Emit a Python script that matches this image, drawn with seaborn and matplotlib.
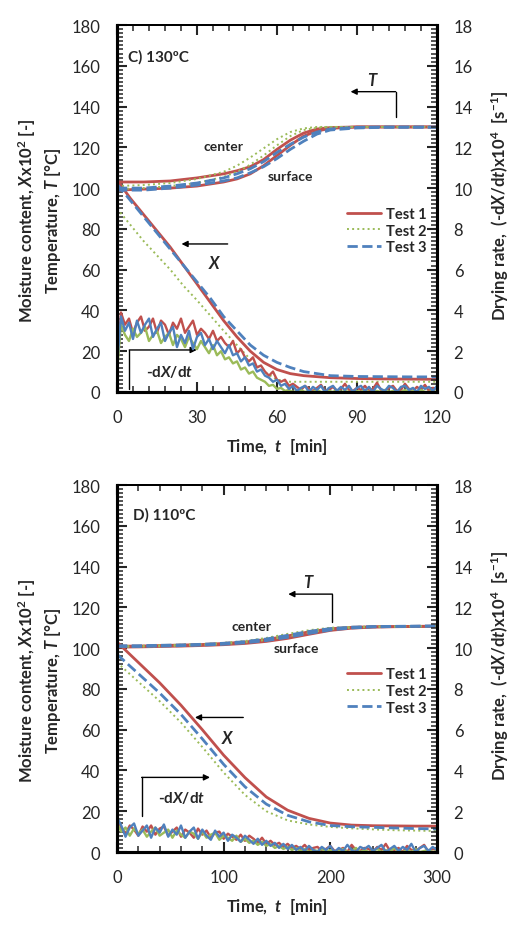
import numpy as np
import pandas as pd
import matplotlib
matplotlib.use('Agg')
import matplotlib.pyplot as plt
from matplotlib.ticker import MultipleLocator
import seaborn as sns

sns.set_style('ticks')
plt.rcParams['font.family'] = ['Lato', 'DejaVu Sans']
plt.rcParams['mathtext.fontset'] = 'custom'
plt.rcParams['mathtext.rm'] = 'Lato:bold'
plt.rcParams['mathtext.bf'] = 'Lato:bold'
plt.rcParams['mathtext.it'] = 'Lato:bold:italic'

tests = ['Test 1', 'Test 2', 'Test 3']
colors = {'Test 1': '#C0504D', 'Test 2': '#9BBB59', 'Test 3': '#4F81BD'}
styles = {'Test 1': '-', 'Test 2': ':', 'Test 3': '--'}
widths = {'Test 1': 2.0, 'Test 2': 1.4, 'Test 3': 2.0}

# ---------------- C) 130 C ----------------
c_time_T = [0, 10, 20, 30, 40, 45, 50, 55, 60, 65, 70, 75, 80, 90, 100, 120]
c_center_1 = [103, 103, 103.5, 105, 107, 108.5, 110.5, 114, 119, 123.5, 127, 129, 129.7, 130, 130, 130]
c_surface_1 = [99, 99.5, 100, 101, 103, 104.5, 107, 111, 116, 121, 125.5, 128, 129.3, 130, 130, 130]
c_center_2 = [101, 101.5, 102.5, 104.5, 108, 111, 115, 119.5, 124, 127.5, 129.3, 130, 130, 130, 130, 130]
c_surface_2 = [99.5, 100, 101, 102.5, 105.5, 108, 111.5, 116, 121, 125.5, 128.5, 129.6, 130, 130, 130, 130]
c_center_3 = [100, 100, 101, 102.5, 105, 107, 109.5, 113, 117.5, 121.5, 125, 127.5, 129, 129.8, 130, 130]
c_surface_3 = [99, 99, 100, 101.5, 103.5, 105, 107.5, 110.5, 114.5, 119, 123, 126.5, 128.5, 129.5, 129.8, 129.8]

c_time_X = [0, 5, 10, 15, 20, 25, 30, 35, 40, 45, 50, 55, 60, 65, 70, 80, 90, 100, 110, 120]
c_X_1 = [104, 95, 87, 79, 71, 62, 53, 44, 35, 27, 20, 14.5, 11, 9, 8, 7, 6.6, 6.4, 6.3, 6.2]
c_X_2 = [90, 82, 74, 67, 60, 52, 45, 37.5, 30, 23, 16, 10, 6, 5, 5, 5, 5, 5, 5, 5]
c_X_3 = [102, 94, 86, 78, 70, 62, 54, 46, 37, 30, 23, 18, 14.5, 12, 10, 8, 7.6, 7.5, 7.4, 7.4]

# drying rate, sampled every 1.5 min (0 ... 120)
c_time_R = np.arange(0, 120.1, 1.5)
c_R_1 = [1.2, 3.9, 3.3, 3.6, 2.9, 3.4, 3.7, 3.0, 3.2, 3.6,
         2.9, 3.5, 3.3, 2.8, 3.4, 3.1, 3.6, 2.9, 3.2, 3.5,
         2.8, 3.1, 2.9, 2.6, 3.0, 2.5, 2.7, 2.4, 2.2, 2.5,
         1.9, 2.1, 1.7, 1.5, 1.7, 1.2, 1.3, 1.0, 0.8, 1.0,
         0.6, 0.5, 0.6, 0.3, 0.4, 0.25, 0.1, 0.3, 0.15, 0.05,
         0.2, 0.35, 0.05, 0.1, 0.25, 0.05, 0.15, 0.4, 0.1, 0.05,
         0.2, 0.1, 0.3, 0.05, 0.15, 0.45, 0.1, 0.05, 0.2, 0.3,
         0.05, 0.1, 0.4, 0.15, 0.05, 0.25, 0.1, 0.35, 0.05, 0.2,
         0.15]
c_R_2 = [1.0, 3.3, 2.8, 2.5, 3.1, 2.7, 2.9, 3.2, 2.5, 2.8,
         3.0, 2.4, 2.7, 2.9, 2.3, 2.8, 2.6, 2.2, 2.7, 2.4,
         2.1, 2.5, 2.2, 1.9, 2.3, 1.8, 2.0, 1.6, 1.7, 1.4,
         1.5, 1.1, 1.2, 0.9, 1.0, 0.7, 0.6, 0.5, 0.3, 0.35,
         0.15, 0.2, 0.05, 0.1, 0.0, 0.05, 0.1, 0.0, 0.05, 0.0,
         0.1, 0.0, 0.0, 0.05, 0.0, 0.1, 0.0, 0.05, 0.0, 0.0,
         0.05, 0.0, 0.1, 0.0, 0.0, 0.05, 0.0, 0.1, 0.0, 0.05,
         0.0, 0.0, 0.1, 0.0, 0.05, 0.0, 0.1, 0.0, 0.0, 0.05,
         0.0]
c_R_3 = [1.3, 3.7, 3.0, 3.4, 2.6, 3.5, 2.9, 3.3, 3.6, 2.7,
         3.1, 3.4, 2.5, 2.9, 3.2, 2.2, 2.8, 2.4, 3.0, 2.1,
         2.7, 2.9, 2.3, 2.6, 2.1, 2.5, 2.2, 1.9, 2.3, 1.8,
         1.9, 1.5, 1.7, 1.3, 1.4, 1.0, 1.1, 0.8, 0.7, 0.5,
         0.6, 0.3, 0.4, 0.15, 0.3, 0.05, 0.2, 0.3, 0.0, 0.25,
         0.1, 0.3, 0.0, 0.2, 0.3, 0.05, 0.25, 0.1, 0.3, 0.0,
         0.2, 0.3, 0.05, 0.25, 0.0, 0.3, 0.15, 0.05, 0.3, 0.2,
         0.0, 0.25, 0.3, 0.1, 0.2, 0.0, 0.3, 0.15, 0.25, 0.05,
         0.3]

# ---------------- D) 110 C ----------------
d_time_T = [0, 20, 40, 60, 80, 100, 120, 140, 160, 180, 200, 220, 240, 260, 280, 300]
d_center_1 = [101, 101, 101.3, 101.5, 101.8, 102.3, 103, 104.2, 106, 108, 109.5, 110.2, 110.5, 110.6, 110.7, 110.8]
d_surface_1 = [100.5, 100.6, 100.8, 101, 101.3, 101.7, 102.3, 103.3, 104.8, 106.8, 108.7, 109.8, 110.3, 110.5, 110.6, 110.7]
d_center_2 = [101, 101.1, 101.4, 101.7, 102, 102.6, 103.5, 105, 107, 108.8, 110, 110.4, 110.6, 110.7, 110.8, 110.8]
d_surface_2 = [100.6, 100.7, 100.9, 101.2, 101.5, 102, 102.8, 104, 105.8, 107.7, 109.2, 110, 110.4, 110.5, 110.6, 110.7]
d_center_3 = [101.2, 101.2, 101.4, 101.6, 101.9, 102.4, 103.2, 104.5, 106.3, 108.2, 109.6, 110.3, 110.6, 110.7, 110.8, 110.9]
d_surface_3 = [100.8, 100.8, 101, 101.2, 101.5, 101.9, 102.6, 103.7, 105.3, 107.2, 108.9, 109.9, 110.4, 110.6, 110.7, 110.8]

d_time_X = [0, 20, 40, 60, 80, 100, 120, 140, 160, 180, 200, 220, 240, 260, 280, 300]
d_X_1 = [103, 93, 83, 72, 60, 47.5, 36.5, 27, 20.5, 16.5, 14.2, 13.2, 12.9, 12.8, 12.7, 12.7]
d_X_2 = [93, 83.5, 74, 63.5, 51.5, 39, 28, 20, 15.5, 13.5, 12.3, 11.6, 11.1, 10.7, 10.5, 10.3]
d_X_3 = [97, 87.5, 78, 67.5, 55.5, 43, 32, 23.5, 18, 14.8, 13, 12.4, 12.1, 11.8, 11.5, 11.3]

# drying rate, sampled every 4 min (0 ... 300)
d_time_R = np.arange(0, 300.1, 4)
d_R_1 = [1.6, 1.2, 0.9, 1.3, 1.1, 0.8, 1.25, 1.0, 1.3, 0.85,
         1.15, 1.25, 0.8, 1.0, 1.2, 0.75, 1.1, 0.95, 0.7, 1.15,
         0.85, 1.05, 0.7, 0.95, 1.0, 0.65, 0.9, 0.75, 0.6, 0.85,
         0.55, 0.8, 0.65, 0.45, 0.7, 0.4, 0.55, 0.35, 0.45, 0.25,
         0.4, 0.2, 0.3, 0.15, 0.35, 0.1, 0.2, 0.25, 0.05, 0.15,
         0.3, 0.05, 0.1, 0.2, 0.0, 0.35, 0.1, 0.05, 0.2, 0.15,
         0.0, 0.25, 0.1, 0.4, 0.05, 0.1, 0.2, 0.0, 0.3, 0.1,
         0.05, 0.2, 0.35, 0.0, 0.15, 0.1]
d_R_2 = [1.4, 1.0, 1.2, 0.8, 1.15, 0.9, 1.1, 0.75, 1.0, 1.2,
         0.8, 0.95, 1.1, 0.7, 1.05, 0.85, 0.7, 1.0, 0.9, 0.65,
         1.0, 0.7, 0.85, 0.95, 0.6, 0.8, 0.7, 0.55, 0.8, 0.5,
         0.65, 0.45, 0.55, 0.35, 0.5, 0.3, 0.4, 0.2, 0.3, 0.15,
         0.25, 0.1, 0.2, 0.05, 0.15, 0.0, 0.1, 0.05, 0.15, 0.0,
         0.1, 0.0, 0.05, 0.15, 0.0, 0.05, 0.2, 0.0, 0.1, 0.0,
         0.05, 0.15, 0.0, 0.1, 0.0, 0.2, 0.05, 0.0, 0.1, 0.0,
         0.15, 0.0, 0.05, 0.1, 0.0, 0.05]
d_R_3 = [1.7, 1.3, 0.75, 1.2, 1.4, 0.8, 1.05, 1.3, 0.7, 1.2,
         0.95, 1.35, 0.75, 1.1, 0.85, 1.3, 0.7, 1.0, 1.2, 0.65,
         1.1, 0.8, 0.6, 1.05, 0.75, 0.95, 0.55, 0.85, 0.7, 0.5,
         0.8, 0.6, 0.4, 0.65, 0.35, 0.55, 0.3, 0.45, 0.2, 0.4,
         0.15, 0.35, 0.1, 0.25, 0.05, 0.3, 0.1, 0.0, 0.25, 0.1,
         0.3, 0.0, 0.2, 0.05, 0.35, 0.1, 0.0, 0.25, 0.15, 0.3,
         0.05, 0.2, 0.35, 0.0, 0.15, 0.3, 0.05, 0.25, 0.1, 0.4,
         0.0, 0.2, 0.3, 0.05, 0.25, 0.1]

panels = [
    dict(title='C) 130ºC', tmax=120, major=30, minor=6,
         tT=c_time_T, center=[c_center_1, c_center_2, c_center_3],
         surface=[c_surface_1, c_surface_2, c_surface_3],
         tX=c_time_X, X=[c_X_1, c_X_2, c_X_3],
         tR=c_time_R, R=[c_R_1, c_R_2, c_R_3],
         title_pos=(0.034, 0.915), center_pos=(40, 120.5), surface_pos=(65, 106),
         T_arrow=(104.5, 134.8, 147.3, 87.6), T_lab=(96, 153.5),
         X_arrow=(41.5, 24.2, 72.6), X_lab=(36.7, 63.7),
         R_arrow=(4.6, 1.5, 20.6, 29.9), R_lab=(19.9, 10.5)),
    dict(title='D) 110ºC', tmax=300, major=100, minor=20,
         tT=d_time_T, center=[d_center_1, d_center_2, d_center_3],
         surface=[d_surface_1, d_surface_2, d_surface_3],
         tX=d_time_X, X=[d_X_1, d_X_2, d_X_3],
         tR=d_time_R, R=[d_R_1, d_R_2, d_R_3],
         title_pos=(0.05, 0.921), center_pos=(126.5, 110.8), surface_pos=(168, 100),
         T_arrow=(201.9, 112.8, 126.5, 160.6), T_lab=(180, 132.5),
         X_arrow=(118.4, 73.1, 66), X_lab=(104.4, 56.2),
         R_arrow=(23.1, 17.8, 36.6, 87.2), R_lab=(60.6, 26.8)),
]

fig = plt.figure(figsize=(5.31, 9.29), dpi=100)
rects = [[0.2203, 0.5770, 0.6026, 0.3950], [0.2203, 0.0818, 0.6026, 0.3950]]
arrow_kw = dict(arrowstyle='-|>', color='black', lw=1.0, mutation_scale=9, shrinkA=0, shrinkB=0)

for rect, p in zip(rects, panels):
    ax = fig.add_axes(rect)
    ax2 = ax.twinx()

    for i, name in enumerate(tests):
        kw = dict(color=colors[name], linestyle=styles[name], linewidth=widths[name])
        sns.lineplot(x=p['tT'], y=p['center'][i], ax=ax, **kw)
        sns.lineplot(x=p['tT'], y=p['surface'][i], ax=ax, **kw)
        sns.lineplot(x=p['tX'], y=p['X'][i], ax=ax, label=name, **kw)
        sns.lineplot(x=p['tR'], y=p['R'][i], ax=ax2, color=colors[name], linewidth=1.7)

    ax.set_xlim(0, p['tmax'])
    ax.set_ylim(0, 180)
    ax2.set_ylim(0, 18)
    ax.xaxis.set_major_locator(MultipleLocator(p['major']))
    ax.xaxis.set_minor_locator(MultipleLocator(p['minor']))
    ax.yaxis.set_major_locator(MultipleLocator(20))
    ax.yaxis.set_minor_locator(MultipleLocator(2))
    ax2.yaxis.set_major_locator(MultipleLocator(2))
    ax2.yaxis.set_minor_locator(MultipleLocator(0.2))

    ax.tick_params(axis='x', which='both', direction='in', top=True, bottom=True,
                   labelsize=12, pad=12)
    ax.tick_params(axis='y', which='both', direction='in', left=True, right=False,
                   labelsize=12, pad=12)
    ax2.tick_params(axis='y', which='both', direction='in', labelsize=12, pad=12)
    for a in (ax, ax2):
        a.tick_params(which='major', length=7, width=1.5)
        a.tick_params(which='minor', length=4.5, width=1.1)
        for side, sp in a.spines.items():
            sp.set_linewidth(1.4 if side == 'top' else 2.2)
            sp.set_color('black')

    ax.set_xlabel('Time,  $t$  [min]', fontsize=12, fontweight='bold')
    ax.set_ylabel('Moisture content, $X$x10$^{2}$ [-]\nTemperature, $T$ [°C]',
                  fontsize=12, fontweight='bold', linespacing=1.35)
    ax2.set_ylabel('Drying rate,  (-d$X$/d$t$)x10$^{4}$  [s$^{-1}$]',
                   fontsize=12, fontweight='bold')
    ax.xaxis.set_label_coords(0.5, -0.12)
    ax.yaxis.set_label_coords(-0.168, 0.47)
    ax2.yaxis.set_label_coords(1.165, 0.51)

    handles, labels = ax.get_legend_handles_labels()
    ax.legend(handles, labels, loc='upper left', bbox_to_anchor=(0.72, 0.505),
              frameon=False, prop={'weight': 'bold', 'size': 10.5},
              handlelength=2.3, handletextpad=0.35, labelspacing=0.2,
              borderpad=0, borderaxespad=0)

    # annotations
    ax.text(*p['title_pos'], p['title'], transform=ax.transAxes, ha='left', va='center',
            fontsize=11, fontweight='bold')
    ax.text(*p['center_pos'], 'center', ha='center', va='center', fontsize=10, fontweight='bold')
    ax.text(*p['surface_pos'], 'surface', ha='center', va='center', fontsize=10, fontweight='bold')

    tx, ty0, ty1, thead = p['T_arrow']
    ax.plot([tx, tx], [ty0, ty1], color='black', lw=1.0)
    ax.annotate('', xy=(thead, ty1), xytext=(tx, ty1), arrowprops=arrow_kw)
    ax.text(*p['T_lab'], '$T$', ha='center', va='center', fontsize=12)

    xs, xh, xy = p['X_arrow']
    ax.annotate('', xy=(xh, xy), xytext=(xs, xy), arrowprops=arrow_kw)
    ax.text(*p['X_lab'], '$X$', ha='center', va='center', fontsize=12)

    rx, ry0, ry1, rhead = p['R_arrow']
    ax.plot([rx, rx], [ry0, ry1], color='black', lw=1.0)
    ax.annotate('', xy=(rhead, ry1), xytext=(rx, ry1), arrowprops=arrow_kw)
    ax.text(*p['R_lab'], '-d$X$/d$t$', ha='center', va='center', fontsize=11, fontweight='bold')

fig.savefig('out.png', dpi=100)
plt.close(fig)
